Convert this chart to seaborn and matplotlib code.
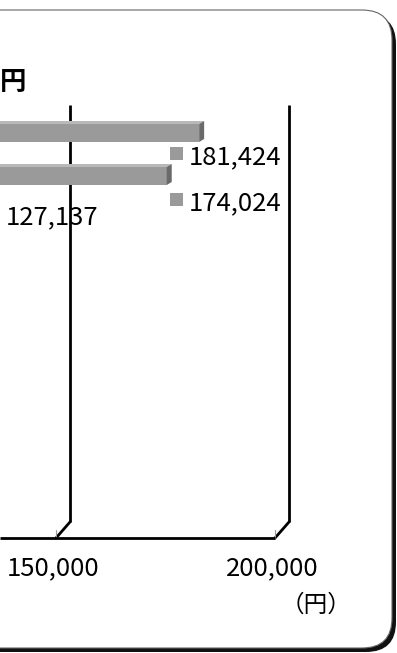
import matplotlib
matplotlib.use("Agg")
import matplotlib.pyplot as plt
from matplotlib.patches import FancyBboxPatch, Polygon, Rectangle
from matplotlib.transforms import IdentityTransform
import seaborn as sns

# valores (recorte mostra só a parte direita)
VALORES = [181424, 174024, 127137]
TICKS = [150000, 200000]
TICK_ROTULOS = ["150,000", "200,000"]
UNIDADE = "（円）"
TITULO = "円"

# cores
COR_FRENTE = "#9a9a9a"
COR_TOPO = "#b9b9b9"
COR_LADO = "#6a6a6a"

# layout em pixels da figura
W, H = 397, 653
PX = 219 / 50000          # pixels por iene
X150 = 61.5               # posição de 150,000 no plano das barras
ROW0, ROW = 133, 43       # centro da 1a barra e espaçamento
ALT_BARRA = 18
DX_3D, DY_3D = 5, 3       # profundidade das barras
FUNDO, FRENTE = 8.5, -5.5 # deslocamento das grades (fundo/frente)

sns.set_theme(style="white")
plt.rcParams["font.family"] = ["Noto Sans CJK JP", "DejaVu Sans"]


def cat(ypix):
    return (ypix - ROW0) / ROW


def off(xpix):
    return xpix / PX


fig = plt.figure(figsize=(W / 100, H / 100), dpi=100)
fig.patch.set_facecolor("white")

# moldura arredondada com sombra
sombra = FancyBboxPatch((-36, 1), 432, 638, boxstyle="round,pad=0,rounding_size=30",
                        transform=IdentityTransform(), facecolor="#111111",
                        edgecolor="none", zorder=-3)
moldura = FancyBboxPatch((-40, 5), 432, 638, boxstyle="round,pad=0,rounding_size=30",
                         transform=IdentityTransform(), facecolor="white",
                         edgecolor="#666666", lw=0.8, zorder=-2)
fig.patches.extend([sombra, moldura])

ax = fig.add_axes([0, 0, 1, 1])
ax.patch.set_visible(False)

sns.barplot(x=VALORES, y=list(range(len(VALORES))), orient="h", color=COR_FRENTE,
            saturation=1, width=ALT_BARRA / ROW, linewidth=0, ax=ax, zorder=2)

x0 = 150000 - X150 / PX
ax.set_xlim(x0, 150000 + (W - X150) / PX)
ax.set_ylim(cat(H), cat(0))
ax.set_axis_off()

# faces 3D das barras
dx, dy = off(DX_3D), -DY_3D / ROW
h = ALT_BARRA / ROW
for i, v in enumerate(VALORES):
    yt, yb = i - h / 2, i + h / 2
    ax.add_patch(Polygon([(0, yt), (v, yt), (v + dx, yt + dy), (dx, yt + dy)],
                         closed=True, facecolor=COR_TOPO, edgecolor="none", zorder=2))
    ax.add_patch(Polygon([(v, yt), (v + dx, yt + dy), (v + dx, yb + dy), (v, yb)],
                         closed=True, facecolor=COR_LADO, edgecolor="none", zorder=2))

# grades verticais (parede do fundo) + piso
for t in TICKS:
    xb, xf = t + off(FUNDO), t + off(FRENTE)
    ax.plot([xb, xb], [cat(105), cat(522)], color="black", lw=2, zorder=1,
            solid_capstyle="butt")
    ax.plot([xf, xb], [cat(538), cat(522)], color="black", lw=2, zorder=1)
    ax.plot([xf, xf], [cat(530), cat(538)], color="#999999", lw=0.8, zorder=1)
ax.plot([x0, TICKS[-1] + off(FRENTE)], [cat(538), cat(538)], color="black", lw=2,
        zorder=1, solid_capstyle="butt")


def ftxt(x, y, s, **kw):
    fig.text(x / W, 1 - y / H, s, **kw)


# rótulos das barras com a "chave" quadrada
pos_rotulos = [(189, 164), (189, 210), (6, 224)]
for v, (xr, yr) in zip(VALORES, pos_rotulos):
    fig.patches.append(Rectangle((xr - 19, H - yr + 4), 13, 13, transform=IdentityTransform(),
                                 facecolor=COR_FRENTE, edgecolor="none", zorder=3))
    ftxt(xr, yr, f"{v:,}", fontsize=18.5, ha="left", va="baseline", color="black")

# rótulos do eixo x
for t, r in zip(TICKS, TICK_ROTULOS):
    xp = X150 + (t - 150000) * PX + FRENTE - 3
    ftxt(xp, 575, r, fontsize=18.5, ha="center", va="baseline", color="black")

ftxt(316, 612, UNIDADE, fontsize=17, ha="center", va="baseline", color="black")
ftxt(0, 90, TITULO, fontsize=19, fontweight="bold", ha="left", va="baseline", color="black")

fig.savefig("out.png", dpi=100)
